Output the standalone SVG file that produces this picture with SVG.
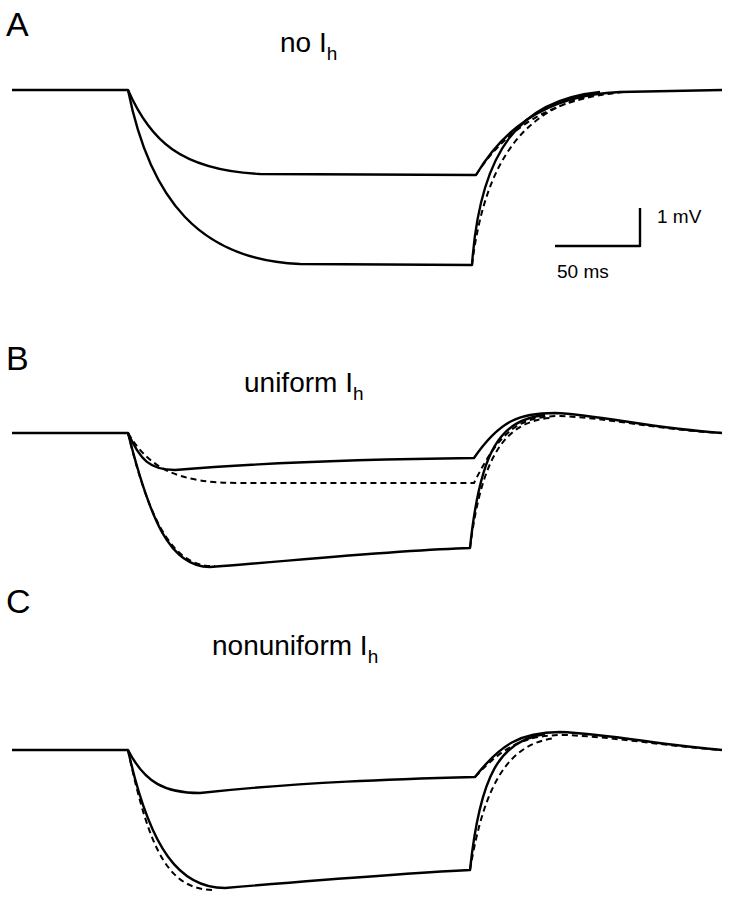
<svg xmlns="http://www.w3.org/2000/svg" width="733" height="900" viewBox="0 0 733 900">
<style>
.t{fill:none;stroke:#000;stroke-width:2.4;stroke-linejoin:round}
.d{fill:none;stroke:#000;stroke-width:2;stroke-dasharray:6,4}
.lab{font-family:"Liberation Sans",Arial,sans-serif;font-size:34px}
.ttl{font-family:"Liberation Sans",Arial,sans-serif;font-size:28px}
.sc{font-family:"Liberation Sans",Arial,sans-serif;font-size:19px}
</style>
<rect width="733" height="900" fill="#fff"/>
<g id="panelA">
<text class="lab" x="6" y="36">A</text>
<text class="ttl" x="280" y="52">no I<tspan font-size="19" dy="8">h</tspan></text>
<path class="t" d="M12 90 H128 C150 140 180 170 260 174 L476 175 C500 135 540 95 620 92 L722 90"/>
<path class="t" d="M128 90 C150 200 200 260 300 264 L472 265 C480 150 520 100 600 92"/>
<path class="d" d="M476 175 C505 130 550 98 625 92 M472 265 C485 160 525 102 610 93"/>
<path class="t" d="M640 208 V246 H555" stroke-width="2"/>
<text class="sc" x="657" y="223">1 mV</text>
<text class="sc" x="557" y="278">50 ms</text>
</g>
<g id="panelB">
<text class="lab" x="6" y="370">B</text>
<text class="ttl" x="244" y="392">uniform I<tspan font-size="19" dy="8">h</tspan></text>
<path class="t" d="M12 433 H128 C140 460 150 470 175 470 C260 463 380 459 474 458 C500 420 520 413 555 413 C600 415 650 428 722 433"/>
<path class="d" d="M128 433 C150 470 180 483 240 483 L474 483 C500 430 520 416 560 416 C610 418 660 430 722 433"/>
<path class="t" d="M128 433 C150 520 170 567 210 567 C300 560 400 550 470 548 C480 450 500 420 545 415"/>
<path class="d" d="M128 433 C150 525 175 568 215 566 M470 548 C482 455 505 422 550 418"/>
</g>
<g id="panelC">
<text class="lab" x="6" y="613">C</text>
<text class="ttl" x="212" y="655">nonuniform I<tspan font-size="19" dy="8">h</tspan></text>
<path class="t" d="M12 750 H128 C145 783 165 793 200 793 C300 782 400 779 475 777 C500 745 520 732 560 732 C610 734 660 745 722 750"/>
<path class="d" d="M475 777 C505 745 525 735 565 735 C615 737 665 746 722 750"/>
<path class="t" d="M128 750 C150 850 180 888 225 888 C320 880 410 873 470 870 C480 775 500 740 545 734"/>
<path class="d" d="M128 750 C150 855 170 890 215 890 M470 870 C485 780 510 744 555 738"/>
</g>
</svg>
